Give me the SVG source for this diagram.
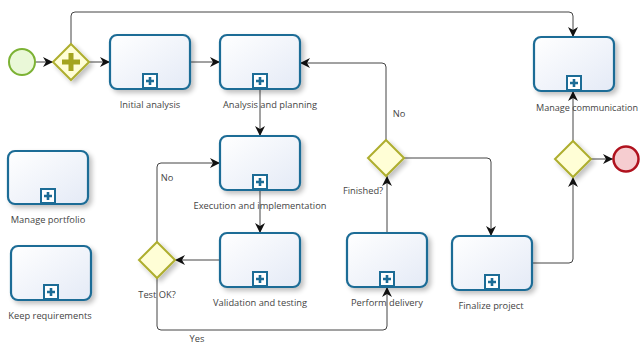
<svg xmlns="http://www.w3.org/2000/svg" width="640" height="345" viewBox="0 0 640 345">
<defs>
<linearGradient id="tg" x1="0" y1="0" x2="1" y2="1">
<stop offset="0" stop-color="#ffffff"/>
<stop offset="1" stop-color="#e4eaf6"/>
</linearGradient>
<filter id="sh" x="-20%" y="-20%" width="150%" height="150%">
<feGaussianBlur in="SourceAlpha" stdDeviation="2.5"/>
<feOffset dx="3" dy="3" result="b"/>
<feComponentTransfer><feFuncA type="linear" slope="0.25"/></feComponentTransfer>
<feMerge><feMergeNode/><feMergeNode in="SourceGraphic"/></feMerge>
</filter>
<marker id="ar" viewBox="0 0 10 10" refX="10" refY="5" markerWidth="10" markerHeight="10" markerUnits="userSpaceOnUse" orient="auto">
<path d="M0,0 L10,5 L0,10 L3,5 Z" fill="#111"/>
</marker>
<g id="mk">
<rect x="-7" y="-7" width="14" height="14" fill="#fff" stroke="#1c6c96" stroke-width="2"/>
<path d="M-4,0 H4 M0,-4 V4" stroke="#1c6c96" stroke-width="2.6"/>
</g>
</defs>
<style>
.task{fill:url(#tg);stroke:#1c6c96;stroke-width:2.2;filter:url(#sh)}
.gw{fill:#fffed6;stroke:#aeae2e;stroke-width:2;filter:url(#sh)}
.lbl{font-family:"Open Sans","Liberation Sans",sans-serif;font-size:9.3px;fill:#444;text-anchor:middle}
.ed{fill:none;stroke:#444;stroke-width:1}
</style>
<g id="connectors">
<path class="ed" d="M36,62 H53" marker-end="url(#ar)"/>
<path class="ed" d="M89,62 H110" marker-end="url(#ar)"/>
<path class="ed" d="M190,62 H220" marker-end="url(#ar)"/>
<path class="ed" d="M71,44 V16 Q71,12 75,12 H569 Q573,12 573,16 V37" marker-end="url(#ar)"/>
<path class="ed" d="M260,89 V136" marker-end="url(#ar)"/>
<path class="ed" d="M260,190 V233" marker-end="url(#ar)"/>
<path class="ed" d="M220,260 H175" marker-end="url(#ar)"/>
<path class="ed" d="M157,242 V167 Q157,163 161,163 H220" marker-end="url(#ar)"/>
<path class="ed" d="M157,278 V326 Q157,330 161,330 H383 Q387,330 387,326 V287" marker-end="url(#ar)"/>
<path class="ed" d="M387,233 V176" marker-end="url(#ar)"/>
<path class="ed" d="M386,140 V67 Q386,63 382,63 H300" marker-end="url(#ar)"/>
<path class="ed" d="M404,158 H487 Q491,158 491,162 V236" marker-end="url(#ar)"/>
<path class="ed" d="M532,263 H569 Q573,263 573,259 V177" marker-end="url(#ar)"/>
<path class="ed" d="M573,141 V91" marker-end="url(#ar)"/>
<path class="ed" d="M591,159 H613" marker-end="url(#ar)"/>
<text class="lbl" x="399" y="117">No</text>
<text class="lbl" x="167" y="181">No</text>
<text class="lbl" x="197" y="342">Yes</text>
</g>
<g id="start"><circle cx="22" cy="62" r="13" fill="#eaf8d8" stroke="#7cb234" stroke-width="2"/></g>
<g id="fork">
<path class="gw" d="M71,44 L89,62 L71,80 L53,62 Z"/>
<path d="M71,53 V71 M62,62 H80" stroke="#a4a41e" stroke-width="5"/>
</g>
<g id="initial-analysis">
<rect class="task" x="110" y="35" width="80" height="54" rx="7"/>
<use href="#mk" x="150" y="81"/>
<text class="lbl" x="150" y="108">Initial analysis</text>
</g>
<g id="analysis-planning">
<rect class="task" x="220" y="35" width="80" height="54" rx="7"/>
<use href="#mk" x="260" y="81"/>
<text class="lbl" x="270" y="108">Analysis and planning</text>
</g>
<g id="execution">
<rect class="task" x="220" y="136" width="80" height="54" rx="7"/>
<use href="#mk" x="260" y="182"/>
<text class="lbl" x="260" y="209">Execution and implementation</text>
</g>
<g id="validation">
<rect class="task" x="220" y="233" width="80" height="54" rx="7"/>
<use href="#mk" x="260" y="279"/>
<text class="lbl" x="260" y="306">Validation and testing</text>
</g>
<g id="test-ok">
<path class="gw" d="M157,242 L175,260 L157,278 L139,260 Z"/>
<text class="lbl" x="157" y="298">Test OK?</text>
</g>
<g id="perform-delivery">
<rect class="task" x="347" y="233" width="80" height="54" rx="7"/>
<use href="#mk" x="387" y="279"/>
<text class="lbl" x="387" y="306">Perform delivery</text>
</g>
<g id="finished">
<path class="gw" d="M386,140 L404,158 L386,176 L368,158 Z"/>
<text class="lbl" x="363" y="194">Finished?</text>
</g>
<g id="finalize">
<rect class="task" x="452" y="236" width="80" height="54" rx="7"/>
<use href="#mk" x="492" y="282"/>
<text class="lbl" x="491" y="309">Finalize project</text>
</g>
<g id="join">
<path class="gw" d="M573,141 L591,159 L573,177 L555,159 Z"/>
</g>
<g id="end"><circle cx="626" cy="159" r="12.5" fill="#f6cdd0" stroke="#b0121e" stroke-width="2.5"/></g>
<g id="manage-communication">
<rect class="task" x="534" y="37" width="80" height="54" rx="7"/>
<use href="#mk" x="574" y="83"/>
<text class="lbl" x="638" y="111" style="text-anchor:end" textLength="102" lengthAdjust="spacingAndGlyphs">Manage communication</text>
</g>
<g id="manage-portfolio">
<rect class="task" x="8" y="151" width="80" height="53" rx="7"/>
<use href="#mk" x="48" y="196"/>
<text class="lbl" x="48" y="223">Manage portfolio</text>
</g>
<g id="keep-requirements">
<rect class="task" x="11" y="246" width="80" height="54" rx="7"/>
<use href="#mk" x="51" y="292"/>
<text class="lbl" x="50" y="319">Keep requirements</text>
</g>
</svg>
